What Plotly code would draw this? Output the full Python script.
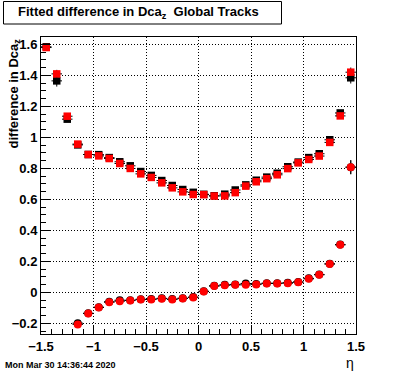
import plotly.graph_objects as go

# bin centres in eta
eta = [-1.45, -1.35, -1.25, -1.15, -1.05, -0.95, -0.85, -0.75, -0.65, -0.55,
       -0.45, -0.35, -0.25, -0.15, -0.05, 0.05, 0.15, 0.25, 0.35, 0.45,
       0.55, 0.65, 0.75, 0.85, 0.95, 1.05, 1.15, 1.25, 1.35, 1.45]

# upper series (squares)
upper_black = [1.585, 1.365, 1.118, 0.952, 0.890, 0.889, 0.870, 0.843, 0.817, 0.780,
               0.755, 0.722, 0.690, 0.664, 0.646, 0.633, 0.624, 0.634, 0.661, 0.694,
               0.724, 0.744, 0.769, 0.811, 0.841, 0.870, 0.895, 0.985, 1.158, 1.385]
upper_red = [1.580, 1.410, 1.137, 0.957, 0.890, 0.881, 0.864, 0.832, 0.800, 0.765,
             0.742, 0.707, 0.675, 0.649, 0.632, 0.631, 0.622, 0.623, 0.644, 0.686,
             0.714, 0.734, 0.759, 0.799, 0.836, 0.858, 0.880, 0.968, 1.139, 1.421]
upper_black_err = [0.010, 0.037, 0.012, 0.006, 0.005, 0.005, 0.005, 0.005, 0.005, 0.005,
                   0.005, 0.005, 0.005, 0.005, 0.005, 0.005, 0.005, 0.005, 0.005, 0.005,
                   0.005, 0.005, 0.005, 0.005, 0.005, 0.005, 0.006, 0.008, 0.012, 0.037]
upper_red_err = [0.010, 0.026, 0.012, 0.006, 0.005, 0.005, 0.005, 0.005, 0.005, 0.005,
                 0.005, 0.005, 0.005, 0.005, 0.005, 0.005, 0.005, 0.005, 0.005, 0.005,
                 0.005, 0.005, 0.005, 0.005, 0.005, 0.005, 0.006, 0.008, 0.012, 0.030]

# lower series (circles)
lower_black = [None, None, None, -0.198, -0.134, -0.095, -0.060, -0.050, -0.050, -0.044,
               -0.043, -0.038, -0.043, -0.037, -0.030, 0.008, 0.043, 0.049, 0.052, 0.058,
               0.054, 0.060, 0.060, 0.063, 0.068, 0.091, 0.116, 0.185, 0.309, 0.808]
lower_red = [None, None, None, -0.206, -0.136, -0.097, -0.063, -0.056, -0.052, -0.046,
             -0.045, -0.040, -0.045, -0.039, -0.032, 0.006, 0.041, 0.047, 0.049, 0.049,
             0.052, 0.058, 0.058, 0.060, 0.066, 0.088, 0.114, 0.183, 0.307, 0.808]
lower_err = [0, 0, 0, 0.010, 0.006, 0.005, 0.005, 0.005, 0.005, 0.005,
             0.005, 0.005, 0.005, 0.005, 0.005, 0.005, 0.005, 0.005, 0.005, 0.005,
             0.005, 0.005, 0.005, 0.005, 0.005, 0.005, 0.006, 0.008, 0.012, 0.045]

x_tick_vals = [-1.5, -1, -0.5, 0, 0.5, 1, 1.5]
y_tick_vals = [-0.2, 0, 0.2, 0.4, 0.6, 0.8, 1, 1.2, 1.4, 1.6]

FONT = "Liberation Sans, Arial, Helvetica, sans-serif"


def make_trace(y, yerr, color, symbol, size):
    return go.Scatter(
        x=eta, y=y, mode="markers",
        marker=dict(symbol=symbol, size=size, color=color, line=dict(width=0)),
        error_y=dict(type="data", array=yerr, color="black", thickness=1, width=0),
        error_x=dict(type="constant", value=0.05, color="black", thickness=1, width=0),
        showlegend=False, hoverinfo="skip",
    )


fig = go.Figure()
fig.add_trace(make_trace(upper_black, upper_black_err, "black", "square", 7.5))
fig.add_trace(make_trace(upper_red, upper_red_err, "red", "square", 7.5))
fig.add_trace(make_trace(lower_black, lower_err, "black", "circle", 8))
fig.add_trace(make_trace(lower_red, lower_err, "red", "circle", 8))

axis_common = dict(
    showline=True, linecolor="black", linewidth=1, mirror=True,
    showgrid=True, gridcolor="black", gridwidth=1, griddash="1px,2px",
    zeroline=False, ticks="inside", tickcolor="black", ticklen=9, tickwidth=1,
    tickfont=dict(family=FONT, size=13, color="black", weight="bold"),
)

fig.update_xaxes(range=[-1.5, 1.5], tickmode="array", tickvals=x_tick_vals,
                 minor=dict(ticks="inside", ticklen=5, tickcolor="black", dtick=0.1, showgrid=False),
                 **axis_common)
fig.update_yaxes(range=[-0.268, 1.648], tickmode="array", tickvals=y_tick_vals,
                 minor=dict(ticks="inside", ticklen=5, tickcolor="black", dtick=0.05,
                            tick0=0, showgrid=False),
                 **axis_common)

fig.update_layout(
    width=396, height=372,
    margin=dict(l=41, r=40, t=37, b=38),
    plot_bgcolor="white", paper_bgcolor="white",
    font=dict(family=FONT, color="black"),
)

# title box
fig.add_shape(type="rect", xref="paper", yref="paper",
              x0=(3.5 - 41) / 315, x1=(281.5 - 41) / 315,
              y0=(334 - 24) / 297, y1=(334 - 1.5) / 297,
              line=dict(color="black", width=1), fillcolor="white")
fig.add_annotation(xref="paper", yref="paper", x=(138 - 41) / 315, y=(334 - 12.5) / 297,
                   text="Fitted difference in Dca<sub>z</sub>  Global Tracks",
                   showarrow=False, xanchor="center", yanchor="middle",
                   font=dict(family=FONT, size=13, color="black", weight="bold"))

# y-axis title
fig.add_annotation(xref="paper", yref="paper", x=(14 - 41) / 315, y=(334 - 93.5) / 297,
                   text="difference in Dca<sub>z</sub>", textangle=-90,
                   showarrow=False, xanchor="center", yanchor="middle",
                   font=dict(family=FONT, size=13, color="black", weight="bold"))

# x-axis title
fig.add_annotation(xref="paper", yref="paper", x=(350 - 41) / 315, y=(334 - 363) / 297,
                   text="η", showarrow=False, xanchor="center", yanchor="middle",
                   font=dict(family=FONT, size=14, color="black"))

# date stamp
fig.add_annotation(xref="paper", yref="paper", x=(3 - 41) / 315, y=(334 - 365) / 297,
                   text="Mon Mar 30 14:36:44 2020", showarrow=False,
                   xanchor="left", yanchor="middle",
                   font=dict(family=FONT, size=9, color="black", weight="bold"))

fig.write_html("out.html",
               config={"displayModeBar": False},
               post_script="document.body.style.margin='0px';"
                           "document.body.style.overflow='hidden';")
